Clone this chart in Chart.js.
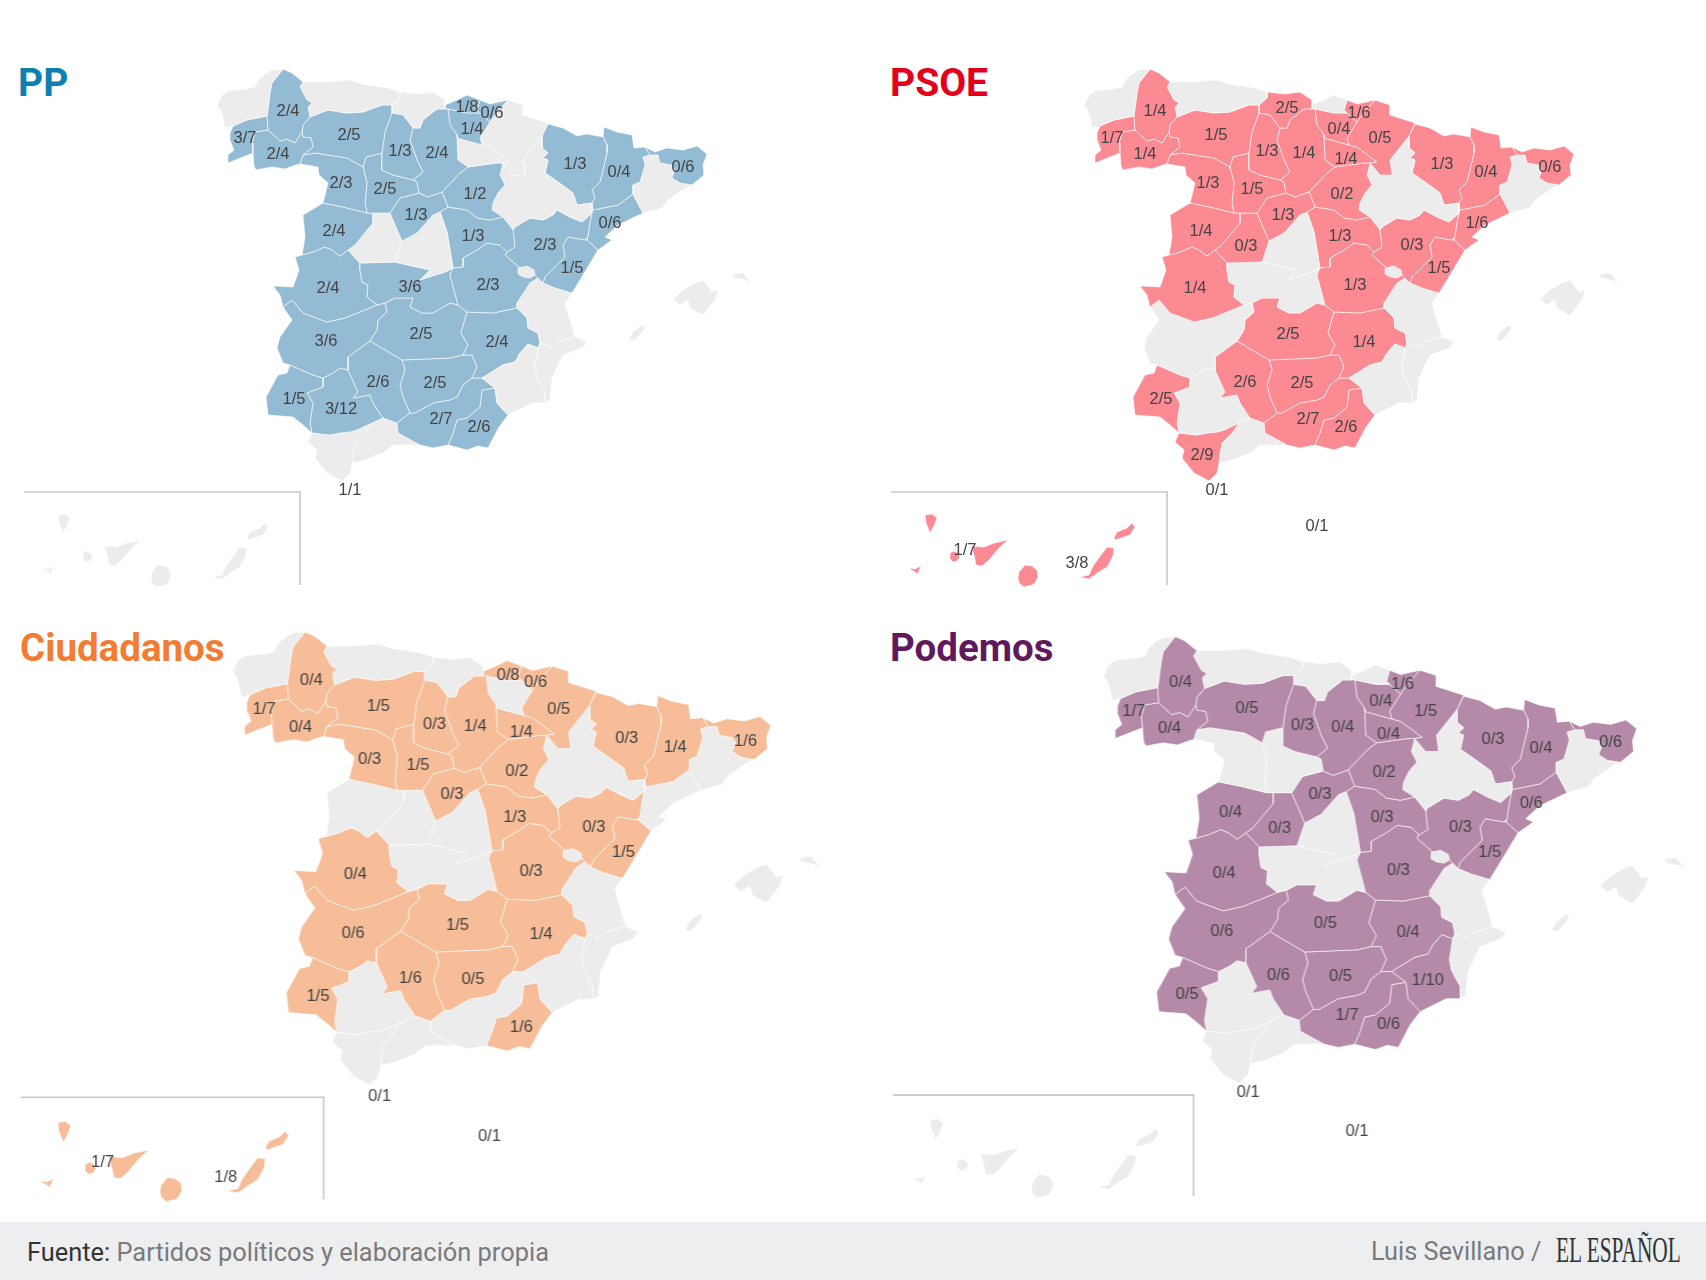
<!DOCTYPE html>
<html lang="es">
<head>
<meta charset="utf-8">
<title>Escaños por provincia</title>
<script src="https://cdn.jsdelivr.net/npm/chart.js@4"></script>
<style>
    html, body { margin: 0; padding: 0; background: #fff; }
    #page { position: relative; width: 1706px; height: 1280px; overflow: hidden; }
    #page canvas { position: absolute; }
    .party { position: absolute; font: 700 39px Roboto, sans-serif; line-height: 46px; }
    #footer { position: absolute; left: 0; top: 1222px; width: 1706px; height: 58px; background: #edeef0; }
    #source { position: absolute; left: 27px; top: 15px; font: 400 25.4px Roboto, sans-serif; color: #7a7a7a; white-space: nowrap; }
    #source b { font-weight: 400; color: #333; }
    #author { position: absolute; left: 1371px; top: 15px; font: 400 25.3px Roboto, sans-serif; color: #7a7a7a; white-space: nowrap; }
    #brand { position: absolute; left: 1556px; top: 9px; font: 400 35px "Liberation Serif", serif; color: #333; white-space: nowrap; transform: scaleX(.61); transform-origin: left top; }
</style>
</head>
<body>
<div id="page">
    <div class="party" style="left:18px;top:60px;color:#0f7eb0">PP</div>
    <div class="party" style="left:890px;top:60px;color:#e3001b">PSOE</div>
    <div class="party" style="left:20px;top:625px;color:#f27d32;font-size:38.5px">Ciudadanos</div>
    <div class="party" style="left:890px;top:625px;color:#5f1a5e;font-size:38.5px">Podemos</div>
    <div id="footer">
        <div id="source"><b>Fuente:</b> Partidos políticos y elaboración propia</div>
        <div id="author">Luis Sevillano /</div>
        <div id="brand">EL ESPAÑOL</div>
    </div>
</div>
<script>
// Province outlines, in map units. Each province is a list of rings (islands).
const coruna = [[[283,69],[272,70],[265,74],[258,80],[255,87],[246,89],[235,90],[228,91],[222,95],[217,105],[221,111],[223,117],[225,128],[233,126],[247,120],[267,116],[270,93],[272,83]]];
const lugo = [[[283,69],[292,73],[303,82],[300,87],[307,100],[312,103],[308,107],[310,117],[303,125],[302,132],[295,143],[287,139],[280,141],[268,130],[267,116],[270,93],[272,83]]];
const pontevedra = [[[233,126],[247,120],[267,116],[268,130],[255,132],[252,143],[253,153],[228,163],[228,155],[234,150],[230,140],[230,133]]];
const ourense = [[[268,130],[280,141],[287,139],[295,143],[302,132],[303,137],[311,138],[313,147],[303,155],[300,164],[296,165],[285,169],[272,167],[256,170],[254,166],[253,153],[252,143],[255,132]]];
const asturias = [[[303,82],[325,82],[350,80],[362,84],[375,86],[388,88],[400,92],[400,98],[392,105],[382,105],[363,112],[347,113],[328,110],[310,117],[308,107],[312,103],[307,100],[300,87]]];
const leon = [[[310,117],[328,110],[347,113],[363,112],[382,105],[392,105],[392,113],[385,132],[382,153],[366,157],[363,167],[347,158],[315,153],[303,155],[313,147],[311,138],[303,137],[302,132],[303,125]]];
const palencia = [[[392,113],[403,115],[413,128],[410,140],[417,160],[423,172],[413,180],[393,175],[382,170],[382,153],[385,132]]];
const cantabria = [[[392,105],[400,98],[400,92],[418,94],[433,92],[445,100],[445,109],[437,109],[423,120],[420,128],[413,128],[403,115],[392,113]]];
const burgos = [[[413,128],[420,128],[423,120],[437,109],[445,109],[448,109],[450,125],[457,135],[457,138],[458,160],[468,167],[460,173],[442,192],[428,197],[419,193],[417,182],[413,180],[423,172],[417,160],[410,140]]];
const vizcaya = [[[445,105],[457,100],[467,95],[480,100],[477,110],[480,113],[467,113],[453,110],[448,109],[445,109]]];
const guipuzcoa = [[[480,100],[490,104],[508,100],[497,112],[490,122],[480,113],[477,110]]];
const alava = [[[448,109],[453,110],[467,113],[480,113],[490,122],[480,138],[482,145],[457,138],[457,135],[450,125]]];
const navarra = [[[508,100],[523,105],[523,115],[548,123],[542,136],[523,160],[525,175],[513,175],[503,163],[510,162],[490,147],[482,145],[480,138],[490,122],[497,112]]];
const rioja = [[[457,138],[482,145],[490,147],[510,162],[503,163],[497,163],[482,165],[468,167],[458,160]]];
const zamora = [[[303,155],[315,153],[347,158],[363,167],[367,183],[365,203],[367,213],[343,207],[323,203],[328,183],[319,175],[318,167],[300,164]]];
const valladolid = [[[366,157],[382,153],[382,170],[393,175],[413,180],[417,182],[419,193],[400,198],[390,213],[373,213],[367,213],[365,203],[367,183],[363,167]]];
const segovia = [[[419,193],[428,197],[442,192],[448,207],[440,212],[433,215],[417,233],[402,241],[390,213],[400,198]]];
const soria = [[[468,167],[482,165],[497,163],[503,163],[500,175],[505,185],[498,193],[493,203],[492,210],[503,217],[490,220],[477,218],[467,210],[448,207],[442,192],[460,173]]];
const salamanca = [[[323,203],[343,207],[367,213],[373,213],[373,223],[363,235],[355,245],[348,250],[340,256],[332,250],[325,247],[313,252],[302,255],[305,237],[303,215]]];
const avila = [[[373,213],[390,213],[402,241],[395,262],[360,263],[348,250],[355,245],[363,235],[373,223]]];
const madrid = [[[433,215],[440,212],[447,232],[450,250],[453,268],[445,272],[432,276],[420,280],[430,270],[395,262],[402,241],[417,233]]];
const guadalajara = [[[440,212],[448,207],[467,210],[477,218],[490,220],[503,217],[513,230],[515,247],[507,252],[500,245],[487,243],[477,250],[463,258],[463,267],[453,268],[450,250],[447,232]]];
const zaragoza = [[[542,136],[542,148],[548,153],[543,158],[548,160],[545,173],[558,182],[573,193],[577,205],[592,203],[592,213],[582,222],[570,217],[557,210],[553,215],[543,220],[530,218],[515,227],[513,230],[503,217],[492,210],[493,203],[498,193],[505,185],[500,175],[503,163],[513,175],[525,175],[523,160]]];
const huesca = [[[548,124],[563,128],[577,136],[587,134],[603,137],[607,145],[607,153],[600,182],[592,190],[595,198],[592,203],[577,205],[573,193],[558,182],[545,173],[548,160],[543,158],[548,153],[542,148],[542,136]]];
const lleida = [[[604,127],[617,132],[632,135],[634,148],[645,147],[650,155],[643,157],[645,165],[640,182],[633,185],[633,194],[618,205],[593,210],[592,203],[595,198],[592,190],[600,182],[607,153],[607,145],[603,137]]];
const girona = [[[645,147],[655,152],[667,148],[683,150],[697,146],[707,154],[703,165],[704,175],[692,185],[680,183],[672,178],[675,170],[672,165],[660,163],[658,155],[650,155]]];
const barcelona = [[[650,155],[658,155],[660,163],[672,165],[675,170],[672,178],[680,183],[692,185],[687,187],[668,200],[662,208],[643,213],[633,194],[633,185],[640,182],[645,165],[643,157]]];
const tarragona = [[[592,203],[593,210],[618,205],[633,194],[643,213],[618,225],[605,237],[612,240],[598,250],[587,240],[588,237],[590,223],[592,213]]];
const teruel = [[[513,230],[515,227],[530,218],[543,220],[553,215],[557,210],[570,217],[582,222],[592,213],[590,223],[588,237],[585,240],[568,237],[563,245],[565,257],[545,277],[543,283],[538,278],[533,273],[520,268],[505,255],[507,252],[515,247]]];
const castellon = [[[587,240],[598,250],[580,280],[572,293],[565,291],[555,288],[543,283],[545,277],[565,257],[563,245],[568,237],[585,240]]];
const cuenca = [[[453,268],[463,267],[463,258],[477,250],[487,243],[500,245],[507,252],[505,255],[520,268],[533,273],[538,278],[530,283],[517,303],[517,308],[493,313],[467,312],[458,305],[450,275]]];
const valencia = [[[530,283],[538,278],[543,283],[555,288],[565,291],[572,293],[565,303],[570,320],[575,337],[570,338],[557,342],[552,347],[540,343],[538,333],[528,328],[527,318],[517,308],[517,303]]];
const ademuz = [[[518,268],[527,266],[534,270],[535,275],[530,278],[523,277],[518,274]]];
const alicante = [[[540,343],[552,347],[557,342],[570,338],[575,337],[587,342],[582,348],[563,355],[552,378],[550,400],[545,403],[545,392],[537,377],[535,367],[538,348]]];
const murcia = [[[482,378],[503,365],[515,362],[520,353],[528,344],[538,348],[535,367],[537,377],[545,392],[545,403],[532,403],[508,415],[497,403],[495,388]]];
const albacete = [[[467,312],[493,313],[517,308],[527,318],[528,328],[538,333],[540,343],[538,348],[528,344],[520,353],[515,362],[503,365],[482,378],[472,378],[477,367],[472,355],[463,355],[468,345],[461,333]]];
const toledo = [[[360,263],[395,262],[430,270],[420,280],[432,276],[445,272],[453,268],[450,275],[458,305],[450,303],[433,313],[422,313],[410,307],[413,298],[395,298],[385,303],[377,305],[367,297],[368,285],[362,282],[360,270]]];
const caceres = [[[273,286],[293,287],[299,270],[295,257],[302,255],[313,252],[325,247],[332,250],[340,256],[348,250],[360,263],[360,270],[362,282],[368,285],[367,297],[377,305],[360,312],[345,318],[327,322],[303,313],[292,300],[283,307],[280,295]]];
const badajoz = [[[283,307],[292,300],[303,313],[327,322],[345,318],[360,312],[377,305],[385,303],[387,312],[378,320],[377,330],[370,341],[348,357],[348,370],[340,368],[333,373],[323,378],[313,375],[297,368],[290,365],[283,363],[277,348],[280,337],[292,320]]];
const ciudadReal = [[[385,303],[395,298],[413,298],[410,307],[422,313],[433,313],[450,303],[458,305],[467,312],[461,333],[468,345],[463,355],[450,358],[402,360],[370,341],[377,330],[378,320],[387,312]]];
const cordoba = [[[348,357],[370,341],[402,360],[405,370],[400,385],[403,397],[410,413],[397,423],[383,418],[373,403],[370,395],[353,398],[358,392],[348,370]]];
const jaen = [[[402,360],[450,358],[463,355],[472,355],[477,367],[472,378],[463,385],[457,397],[450,400],[433,403],[415,413],[410,413],[403,397],[400,385],[405,370]]];
const granada = [[[472,378],[482,378],[495,388],[482,390],[480,407],[467,418],[457,420],[453,433],[448,445],[433,448],[420,445],[398,433],[397,423],[410,413],[415,413],[433,403],[450,400],[457,397],[463,385]]];
const almeria = [[[482,390],[495,388],[497,403],[508,415],[499,427],[488,448],[478,446],[467,450],[448,445],[453,433],[457,420],[467,418],[480,407]]];
const huelva = [[[290,365],[297,368],[313,375],[323,378],[323,387],[307,393],[313,403],[310,423],[312,433],[303,425],[293,417],[268,415],[266,397],[278,375],[287,373]]];
const sevilla = [[[348,370],[358,392],[353,398],[370,395],[373,403],[383,418],[372,423],[357,430],[350,432],[340,433],[330,435],[312,433],[310,423],[313,403],[307,393],[323,387],[323,378],[333,373],[340,368]]];
const cadiz = [[[308,442],[312,433],[330,435],[340,433],[350,432],[357,430],[372,423],[365,433],[355,443],[353,453],[352,463],[350,473],[342,481],[327,473],[315,458],[317,450]]];
const malaga = [[[372,423],[383,418],[397,423],[398,433],[420,445],[393,445],[383,453],[365,460],[352,463],[353,453],[355,443],[365,433]]];
const baleares = [
    [[673,299],[683,290],[695,283],[703,280],[707,285],[712,292],[718,290],[715,300],[705,313],[702,315],[690,308],[688,300],[680,305]],
    [[732,274],[743,273],[752,283],[745,280],[735,278]],
    [[629,340],[633,332],[642,325],[645,328],[640,335],[634,341]]
];
const tenerife = [
    [[58,515],[65,514],[70,518],[67,526],[63,533],[59,523]],
    [[83,553],[87,551],[91,553],[93,557],[90,561],[86,562],[83,559]],
    [[43,568],[48,569],[54,566],[52,571],[50,574],[47,571],[44,570]],
    [[104,546],[117,547],[127,543],[141,540],[132,548],[126,555],[122,560],[115,566],[109,565],[107,555]]
];
const lasPalmas = [
    [[158,565],[165,566],[170,570],[171,577],[168,583],[165,585],[157,587],[152,583],[151,578],[152,572]],
    [[240,547],[247,548],[246,556],[240,567],[232,572],[222,579],[212,577],[222,575],[226,566],[234,555]],
    [[250,532],[260,528],[265,523],[268,527],[263,535],[248,540],[247,538]]
];
const insetFrame = [[24,492],[300,492],[300,585]];

// Same order in every list below. Ceuta and Melilla have a label but no outline here.
const provinces = [ademuz, coruna, lugo, pontevedra, ourense, asturias, leon, palencia, cantabria, burgos, vizcaya, guipuzcoa, alava, navarra, rioja, zamora, valladolid, segovia, soria, salamanca, avila, madrid, guadalajara, zaragoza, huesca, lleida, girona, barcelona, tarragona, teruel, castellon, cuenca, valencia, alicante, murcia, albacete, toledo, caceres, badajoz, ciudadReal, cordoba, jaen, granada, almeria, huelva, sevilla, cadiz, malaga, baleares, tenerife, lasPalmas, [], []];
const labelAnchors = [[0,0],[0,0],[288,110],[245,137],[278,153],[0,0],[349,134],[400,150],[420,107],[437,152],[467,106],[492,112],[472,128],[513,137],[479,158],[341,182],[385,188],[416,214],[475,193],[334,230],[379,245],[0,0],[473,235],[0,0],[575,163],[619,171],[683,166],[0,0],[610,222],[545,244],[572,267],[488,284],[0,0],[0,0],[515,385],[497,341],[410,286],[328,287],[326,340],[421,333],[378,381],[435,382],[441,418],[479,426],[294,398],[341,408],[335,454],[0,0],[0,0],[98,549],[210,562],[350,489],[450,525]];

const ppSeats = ['','','2/4','3/7','2/4','','2/5','1/3','','2/4','1/8','0/6','1/4','','','2/3','2/5','1/3','1/2','2/4','','','1/3','','1/3','0/4','0/6','','0/6','2/3','1/5','2/3','','','','2/4','3/6','2/4','3/6','2/5','2/6','2/5','2/7','2/6','1/5','3/12','','','','','','1/1',''];
const psoeSeats = ['','','1/4','1/7','1/4','','1/5','1/3','2/5','1/4','','1/6','0/4','0/5','1/4','1/3','1/5','1/3','0/2','1/4','0/3','','1/3','','1/3','0/4','0/6','','1/6','0/3','1/5','1/3','','','','1/4','','1/4','','2/5','2/6','2/5','2/7','2/6','2/5','','2/9','','','1/7','3/8','0/1','0/1'];
const csSeats = ['','','0/4','1/7','0/4','','1/5','0/3','','1/4','0/8','0/6','','0/5','1/4','0/3','1/5','0/3','0/2','','','','1/3','','0/3','1/4','1/6','','','0/3','1/5','0/3','','','','1/4','','0/4','0/6','1/5','1/6','0/5','','1/6','1/5','','','','','1/7','1/8','0/1','0/1'];
const podemosSeats = ['','','0/4','1/7','0/4','','0/5','0/3','','0/4','','1/6','0/4','1/5','0/4','','','0/3','0/2','0/4','0/3','','0/3','','0/3','0/4','0/6','','0/6','0/3','1/5','0/3','','','1/10','0/4','','0/4','0/6','0/5','0/6','0/5','1/7','0/6','0/5','','','','','','','0/1','0/1'];

const panels = [
    { id: 'pp', seats: ppSeats, color: '#94bbd4', left: 0, top: 0, zoomX: 1, zoomY: 1, nudgeX: 0, nudgeY: 0 },
    { id: 'psoe', seats: psoeSeats, color: '#fb8a93', left: 867, top: 0, zoomX: 1, zoomY: 1, nudgeX: 0, nudgeY: 0 },
    { id: 'cs', seats: csSeats, color: '#f6bd98', left: -5.7, top: 556.4, zoomX: 1.098, zoomY: 1.1, nudgeX: 1, nudgeY: 2 },
    { id: 'podemos', seats: podemosSeats, color: '#b58aa8', left: 866.8, top: 561.3, zoomX: 1.0886, zoomY: 1.085, nudgeX: 0, nudgeY: 0 },
];
const emptyColor = '#ececec';
const mapWidth = 800;
const mapTop = 50;
const mapBottom = 610;

// Writes the seat labels on top of the map.
const seatLabels = {
    id: 'seatLabels',
    afterDraw(chart, args, opts) {
        const { ctx, scales } = chart;
        ctx.save();
        ctx.font = '16.5px "Liberation Sans", Arial, sans-serif';
        ctx.fillStyle = '#444';
        ctx.textAlign = 'center';
        ctx.textBaseline = 'middle';
        opts.seats.forEach(function (seat, i) {
            if (seat) {
                ctx.fillText(seat, scales.x.getPixelForValue(labelAnchors[i][0]) + opts.nudgeX, scales.y.getPixelForValue(labelAnchors[i][1]) + opts.nudgeY + 1);
            }
        });
        ctx.restore();
    },
};

panels.forEach(function (panel) {
    const canvas = document.createElement('canvas');
    canvas.id = panel.id;
    canvas.style.left = (panel.left) + 'px';
    canvas.style.top = (panel.top + mapTop * panel.zoomY) + 'px';
    canvas.style.width = (mapWidth * panel.zoomX) + 'px';
    canvas.style.height = ((mapBottom - mapTop) * panel.zoomY) + 'px';
    document.getElementById('page').appendChild(canvas);

    const datasets = [];
    provinces.forEach(function (rings, i) {
        const fillColor = panel.seats[i] ? panel.color : emptyColor;
        rings.forEach(function (ring) {
            datasets.push({
                data: ring.concat([ring[0]]).map(function (p) { return { x: p[0], y: p[1] }; }),
                showLine: true,
                fill: 'shape',
                backgroundColor: fillColor,
                borderColor: '#fff',
                borderWidth: 0.6,
                pointRadius: 0,
            });
        });
    });
    datasets.push({
        data: insetFrame.map(function (p) { return { x: p[0], y: p[1] }; }),
        showLine: true,
        fill: false,
        borderColor: '#c8c8c8',
        borderWidth: 1.6,
        pointRadius: 0,
    });

    new Chart(canvas, {
        type: 'scatter',
        data: { datasets: datasets },
        plugins: [seatLabels],
        options: {
            responsive: false,
            animation: false,
            events: [],
            layout: { padding: 0 },
            scales: {
                x: { type: 'linear', display: false, min: 0, max: mapWidth },
                y: { type: 'linear', display: false, min: mapTop, max: mapBottom, reverse: true },
            },
            plugins: {
                legend: { display: false },
                tooltip: { enabled: false },
                seatLabels: { seats: panel.seats, nudgeX: panel.nudgeX, nudgeY: panel.nudgeY },
            },
        },
    });
});
</script>
</body>
</html>
